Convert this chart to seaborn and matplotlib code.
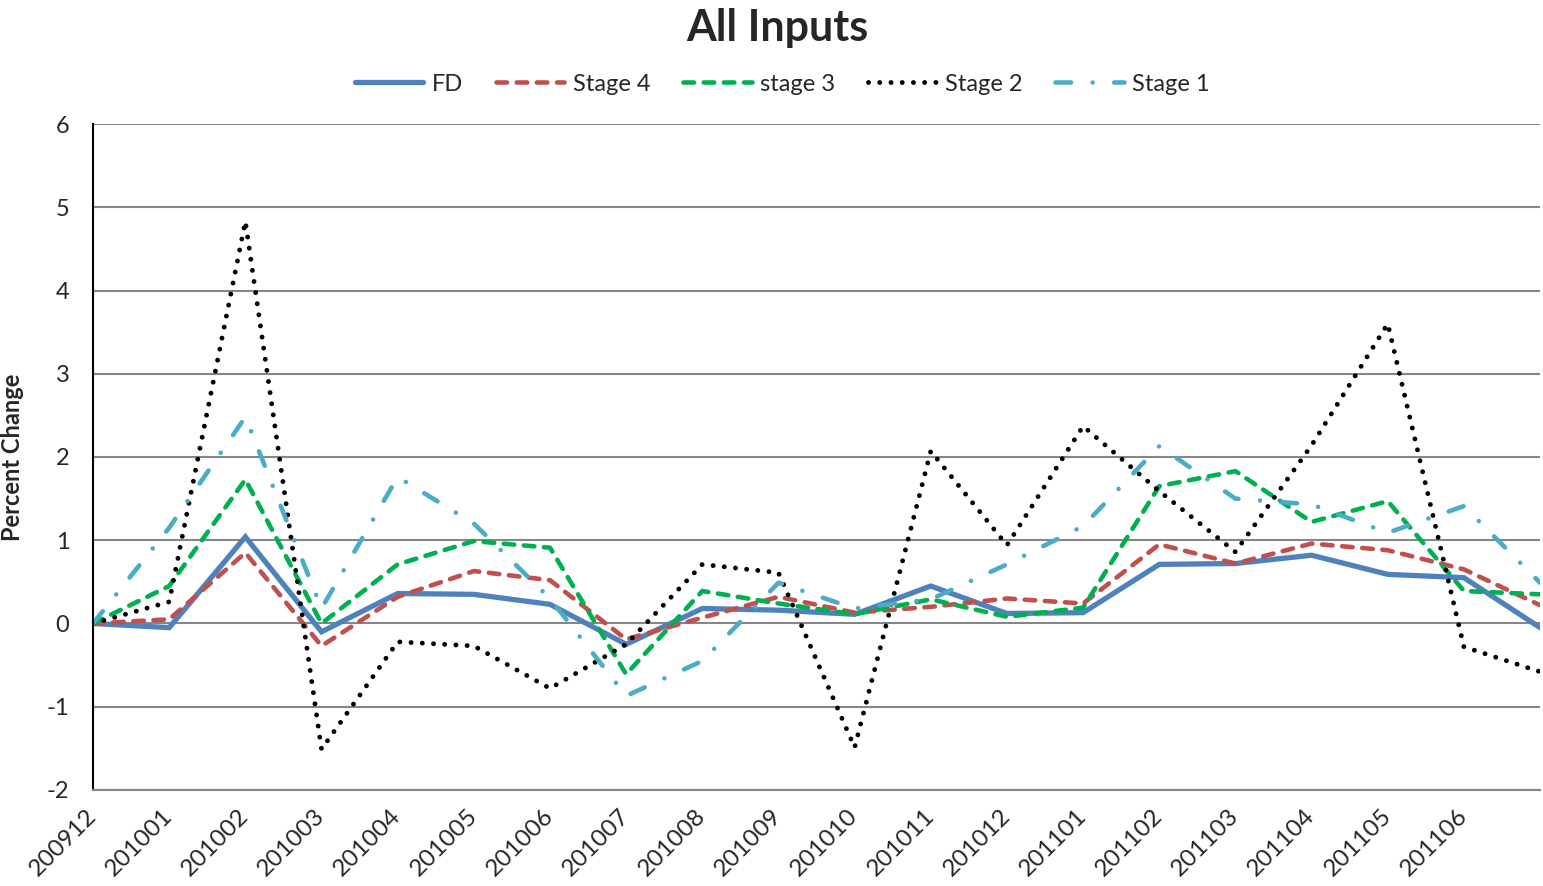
import numpy as np
import pandas as pd
import matplotlib
matplotlib.use("Agg")
import matplotlib.pyplot as plt
import seaborn as sns

# months on the category axis (last one has no visible label in the original)
months = ["200912", "201001", "201002", "201003", "201004", "201005", "201006",
          "201007", "201008", "201009", "201010", "201011", "201012", "201101",
          "201102", "201103", "201104", "201105", "201106", "201107"]

fd = [0.00, -0.05, 1.04, -0.10, 0.36, 0.35, 0.23, -0.25, 0.18, 0.16,
      0.11, 0.45, 0.12, 0.13, 0.71, 0.72, 0.82, 0.59, 0.55, -0.05]
stage4 = [0.00, 0.05, 0.85, -0.27, 0.32, 0.63, 0.52, -0.19, 0.07, 0.32,
          0.13, 0.20, 0.30, 0.24, 0.95, 0.72, 0.96, 0.88, 0.65, 0.22]
stage3 = [0.00, 0.45, 1.73, 0.00, 0.71, 0.99, 0.91, -0.61, 0.39, 0.24,
          0.11, 0.29, 0.08, 0.19, 1.65, 1.83, 1.22, 1.47, 0.39, 0.35]
stage2 = [0.00, 0.26, 4.83, -1.51, -0.22, -0.27, -0.78, -0.25, 0.71, 0.61,
          -1.49, 2.07, 0.94, 2.37, 1.59, 0.86, 2.14, 3.60, -0.28, -0.58]
stage1 = [0.00, 1.15, 2.48, 0.18, 1.76, 1.20, 0.30, -0.87, -0.45, 0.49,
          0.18, 0.29, 0.71, 1.17, 2.13, 1.50, 1.43, 1.09, 1.41, 0.49]

series_names = ["FD", "Stage 4", "stage 3", "Stage 2", "Stage 1"]
palette = {"FD": "#4F81BD", "Stage 4": "#C0504D", "stage 3": "#00B050",
           "Stage 2": "#000000", "Stage 1": "#4BACC6"}
dash_map = {"FD": "", "Stage 4": (2.3, 2.1), "stage 3": (2.3, 2.1),
            "Stage 2": (0.01, 2.3), "Stage 1": (3.4, 4.7, 0.01, 4.7)}
width_map = {"FD": 3.8, "Stage 4": 3.3, "stage 3": 3.3, "Stage 2": 3.5, "Stage 1": 3.3}

df = pd.DataFrame({"pos": np.arange(len(months)), "FD": fd, "Stage 4": stage4,
                   "stage 3": stage3, "Stage 2": stage2, "Stage 1": stage1})
df = df.melt(id_vars="pos", var_name="series", value_name="pct")

sns.set_style("white")
plt.rcParams["font.family"] = ["Lato", "DejaVu Sans"]
plt.rcParams["axes.unicode_minus"] = False

fig = plt.figure(figsize=(15.43, 8.86), dpi=100)
ax = fig.add_axes([0.0603, 0.1084, 0.9378, 0.7516])

sns.lineplot(data=df, x="pos", y="pct", hue="series", style="series", size="series",
             hue_order=series_names, style_order=series_names, size_order=series_names,
             palette=palette, dashes=dash_map, sizes=width_map,
             dash_capstyle="round", solid_capstyle="round", solid_joinstyle="miter",
             ax=ax)

ax.set_xlim(0, len(months) - 1)
ax.set_ylim(-2, 6)
ax.set_yticks(range(-2, 7))
ax.set_xticks(np.arange(len(months)))
ax.set_xticklabels(months[:-1] + [""], rotation=45, ha="right", va="center",
                   rotation_mode="anchor", fontsize=17.5)
ax.tick_params(axis="y", length=0, pad=17, labelsize=17)
ax.tick_params(axis="x", direction="inout", length=11, width=1.5, color="#868686", pad=11)

ax.set_axisbelow(True)
ax.yaxis.grid(True, color="#868686", linewidth=1.5)
ax.xaxis.grid(False)
for side in ["top", "right"]:
    ax.spines[side].set_visible(False)
ax.spines["bottom"].set_color("#868686")
ax.spines["bottom"].set_linewidth(1.5)
ax.spines["left"].set_color("black")
ax.spines["left"].set_linewidth(1.5)

ax.set_xlabel("")
ax.set_ylabel("Percent Change", fontsize=17, fontweight="bold")
ax.yaxis.set_label_coords(-0.0477, 0.5)

sns.move_legend(ax, "center", bbox_to_anchor=(0.507, 0.905), bbox_transform=fig.transFigure,
                ncol=5, frameon=False, title=None, fontsize=17, handlelength=2.9,
                handletextpad=0.35, columnspacing=1.4)

fig.text(0.5036, 0.968, "All Inputs", ha="center", va="center", fontsize=31, fontweight="bold")

fig.savefig("out.png", dpi=100)
